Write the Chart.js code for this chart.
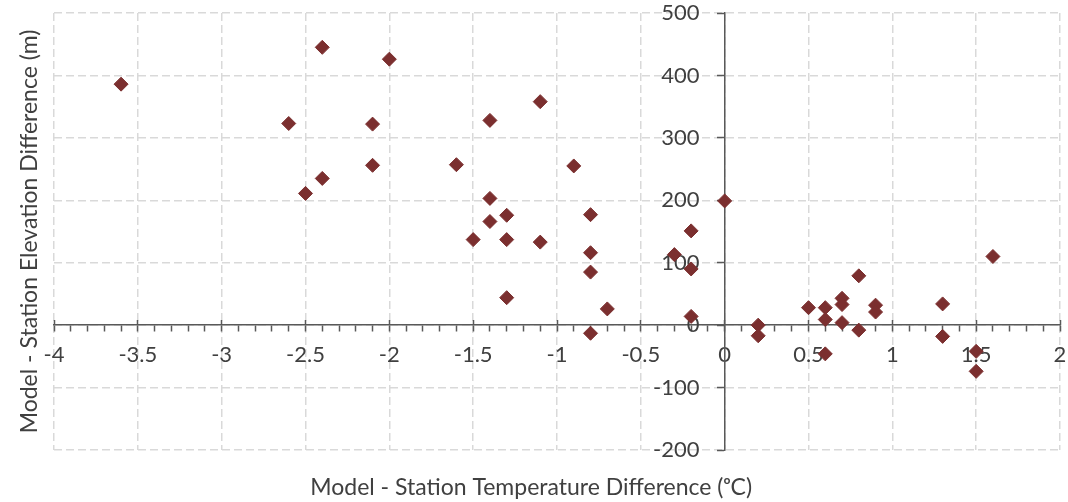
<!DOCTYPE html>
<html>
<head>
<meta charset="utf-8">
<script src="https://cdn.jsdelivr.net/npm/chart.js@4.4.0/dist/chart.umd.min.js"></script>
<style>
  html, body { margin: 0; padding: 0; background: #ffffff; }
  #wrap { width: 1068px; height: 502px; position: relative; }
</style>
</head>
<body>
<div id="wrap"><canvas id="scatterChart"></canvas></div>
<script>
// Model - station differences
var tempDiff = [-3.6, -2.4, -2.0, -2.6, -2.1, -2.1, -2.4, -2.5, -1.6, -1.4, -1.1, -0.9,
  -1.4, -1.4, -1.3, -1.5, -1.3, -1.1, -0.8, -0.8, -0.8, -1.3, -0.7, -0.8,
  -0.3, -0.2, -0.2, -0.2, 0.0, 0.2, 0.2, 0.5, 0.6, 0.6, 0.6, 0.7, 0.7, 0.7,
  0.8, 0.8, 0.9, 0.9, 1.3, 1.3, 1.5, 1.5, 1.6];
var elevDiff = [386, 445, 426, 323, 322, 256, 235, 211, 257, 328, 358, 255,
  203, 166, 176, 137, 137, 133, 177, 116, 85, 44, 26, -13,
  113, 151, 90, 14, 199, 0, -17, 28, 28, 9, -46, 43, 33, 4,
  79, -8, 32, 21, 34, -18, -42, -74, 110];

var xTickLabels = ['-4', '-3.5', '-3', '-2.5', '-2', '-1.5', '-1', '-0.5', '0', '0.5', '1', '1.5', '2'];
var yTickLabels = ['-200', '-100', '0', '100', '200', '300', '400', '500'];

// trailing em spaces nudge the centred title a bit to the left, like the original
var xTitle = 'Model - Station Temperature Difference (\u1D52C)\u2003\u2003\u2003';
var yTitle = 'Model - Station Elevation Difference (m)';

var points = tempDiff.map(function(t, i) {
  return { x: t, y: elevDiff[i] };
});

var textColor = '#404040';
var axisColor = '#595959';
var gridColor = '#d9d9d9';
var tickFont = { family: 'Lato', size: 22 };
var titleFont = { family: 'Lato', size: 23 };

// centred axes should not take any room in the layout
function noSpace(scale) {
  if (scale.isHorizontal()) scale.height = 0; else scale.width = 0;
  scale.paddingLeft = 0; scale.paddingRight = 0;
  scale.paddingTop = 0; scale.paddingBottom = 0;
}

var ctx = document.getElementById('scatterChart').getContext('2d');
var chart = new Chart(ctx, {
  type: 'scatter',
  data: {
    datasets: [{
      label: 'Stations',
      data: points,
      pointStyle: 'rectRot',
      pointRadius: 7,
      pointHoverRadius: 7,
      backgroundColor: '#7B2F2F',
      borderColor: '#7B2F2F',
      borderWidth: 1
    }]
  },
  options: {
    responsive: true,
    maintainAspectRatio: false,
    animation: false,
    layout: { padding: { top: 13, right: 7, left: 0, bottom: 0 } },
    plugins: {
      legend: { display: false },
      tooltip: { enabled: false }
    },
    scales: {
      // outer dashed grid + axis titles
      x: {
        type: 'linear', position: 'bottom', min: -4, max: 2,
        ticks: { display: false, stepSize: 0.5 },
        grid: { color: gridColor, lineWidth: 1.5, drawTicks: false },
        border: { display: false, dash: [8, 4] },
        title: { display: true, text: xTitle, color: textColor,
          font: titleFont, padding: { top: 0, bottom: 1 } },
        afterFit: function(s) { s.height = 52; }
      },
      y: {
        type: 'linear', position: 'left', min: -200, max: 500,
        ticks: { display: false, stepSize: 100 },
        grid: { color: gridColor, lineWidth: 1.5, drawTicks: false },
        border: { display: false, dash: [8, 4] },
        title: { display: true, text: yTitle, color: textColor,
          font: titleFont, padding: { top: 16, bottom: 0 } },
        afterFit: function(s) { s.width = 54; }
      },
      // x axis line through y = 0, with 0.1 minor ticks and labels at 0.5
      x0: {
        type: 'linear', axis: 'x', position: { y: 0 }, min: -4, max: 2,
        ticks: {
          stepSize: 0.1, autoSkip: false, maxRotation: 0, padding: 11,
          color: textColor, font: tickFont,
          callback: function(v) {
            var k = Math.round(v * 10);
            if (k % 5 !== 0) return '';
            return xTickLabels[(k + 40) / 5];
          }
        },
        grid: { drawOnChartArea: false, tickLength: 6, tickColor: axisColor, tickWidth: 1.5 },
        border: { display: true, color: axisColor, width: 1.5 },
        afterFit: noSpace
      },
      // upper half of the major x ticks
      x0major: {
        type: 'linear', axis: 'x', position: { y: 8 }, min: -4, max: 2,
        ticks: { display: false, stepSize: 0.5 },
        grid: { drawOnChartArea: false, tickLength: 5, tickColor: axisColor, tickWidth: 1.5 },
        border: { display: false },
        afterFit: noSpace
      },
      // y axis line through x = 0
      y0: {
        type: 'linear', axis: 'y', position: { x: 0 }, min: -200, max: 500,
        ticks: { display: false, stepSize: 100 },
        grid: { drawOnChartArea: false, tickLength: 7, tickColor: axisColor, tickWidth: 1.5 },
        border: { display: true, color: axisColor, width: 1.5 },
        afterFit: noSpace
      },
      // y labels, a little left of the axis line
      y0lab: {
        type: 'linear', axis: 'y', position: { x: -0.15 }, min: -200, max: 500,
        ticks: {
          stepSize: 100, padding: 0, color: textColor, font: tickFont,
          callback: function(v) {
            var i = Math.round((v + 200) / 100);
            return yTickLabels[i];
          }
        },
        grid: { display: false, drawTicks: false },
        border: { display: false },
        afterFit: noSpace
      }
    }
  }
});
</script>
</body>
</html>
